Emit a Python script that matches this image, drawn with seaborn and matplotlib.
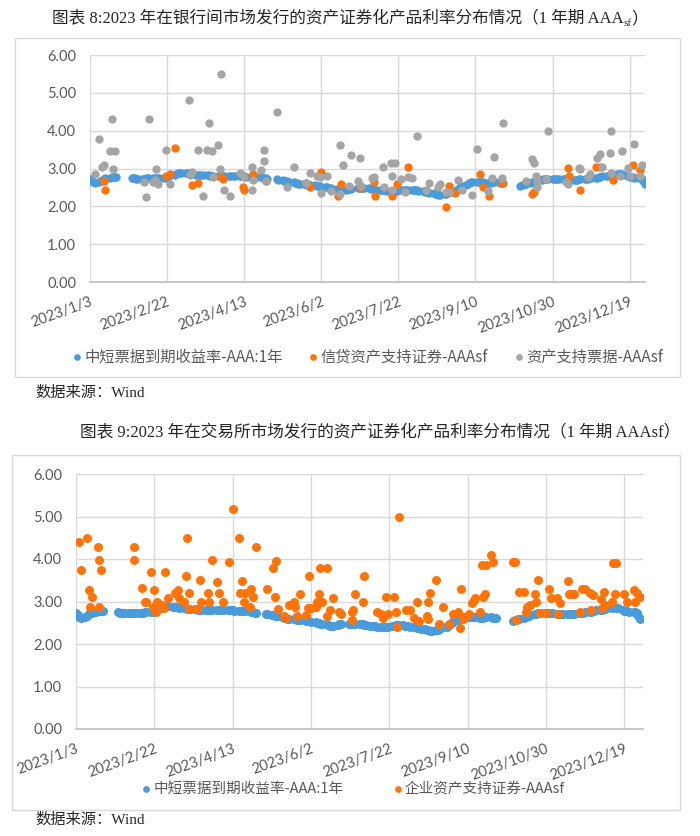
import pandas as pd
import seaborn as sns
import matplotlib.pyplot as plt
from matplotlib.patches import Rectangle
from matplotlib.ticker import FormatStrFormatter

# 中短票据到期收益率-AAA:1年, one value per trading day, month by month
mtn_jan = [2.72, 2.68, 2.63, 2.61, 2.64, 2.67, 2.70, 2.72, 2.74, 2.76, 2.77, 2.78, 2.78, 2.78, 2.75, 2.74]
mtn_feb = [2.74, 2.73, 2.73, 2.73, 2.73, 2.74, 2.74, 2.74, 2.74, 2.74, 2.74, 2.75, 2.75, 2.75, 2.76, 2.78,
           2.80, 2.82, 2.84, 2.86]
mtn_mar = [2.88, 2.89, 2.89, 2.88, 2.88, 2.87, 2.86, 2.85, 2.84, 2.84, 2.83, 2.83, 2.82, 2.82, 2.82, 2.81,
           2.81, 2.81, 2.80, 2.80, 2.80, 2.80, 2.80]
mtn_apr = [2.80, 2.80, 2.79, 2.79, 2.79, 2.79, 2.79, 2.79, 2.78, 2.78, 2.78, 2.78, 2.78, 2.77, 2.77, 2.76,
           2.75, 2.74, 2.73]
mtn_may = [2.71, 2.70, 2.69, 2.68, 2.67, 2.66, 2.65, 2.63, 2.62, 2.61, 2.60, 2.60, 2.59, 2.58, 2.57, 2.57,
           2.56, 2.56, 2.55, 2.54]
mtn_jun = [2.53, 2.52, 2.51, 2.50, 2.49, 2.48, 2.47, 2.46, 2.44, 2.43, 2.42, 2.42, 2.44, 2.46, 2.47, 2.48,
           2.48, 2.48, 2.48, 2.48]
mtn_jul = [2.48, 2.47, 2.46, 2.45, 2.44, 2.43, 2.43, 2.42, 2.42, 2.41, 2.41, 2.40, 2.40, 2.40, 2.41, 2.42,
           2.43, 2.44, 2.44, 2.44, 2.44]
mtn_aug = [2.43, 2.42, 2.42, 2.41, 2.40, 2.39, 2.38, 2.37, 2.36, 2.35, 2.33, 2.32, 2.31, 2.31, 2.32, 2.33,
           2.35, 2.37, 2.39, 2.41, 2.44, 2.47, 2.50]
mtn_sep = [2.53, 2.56, 2.59, 2.61, 2.63, 2.64, 2.64, 2.64, 2.63, 2.63, 2.63, 2.62, 2.62, 2.62, 2.63, 2.63,
           2.63, 2.62, 2.62, 2.62]
mtn_oct = [2.55, 2.56, 2.57, 2.58, 2.60, 2.62, 2.64, 2.65, 2.67, 2.68, 2.70, 2.71, 2.72, 2.72, 2.72, 2.72, 2.72]
mtn_nov = [2.72, 2.72, 2.72, 2.71, 2.71, 2.71, 2.70, 2.70, 2.70, 2.70, 2.70, 2.71, 2.71, 2.72, 2.72, 2.73,
           2.74, 2.75, 2.76, 2.76, 2.77, 2.78]
mtn_dec = [2.79, 2.80, 2.81, 2.82, 2.83, 2.84, 2.85, 2.86, 2.86, 2.85, 2.84, 2.80, 2.78, 2.77, 2.77, 2.76,
           2.76, 2.75, 2.72, 2.66, 2.60]

holidays = ["2023-01-23", "2023-01-24", "2023-01-25", "2023-01-26", "2023-01-27", "2023-04-05",
            "2023-05-01", "2023-05-02", "2023-05-03", "2023-06-22", "2023-06-23", "2023-09-29",
            "2023-10-02", "2023-10-03", "2023-10-04", "2023-10-05", "2023-10-06"]

# chart 8: interbank issues
credit_dates = ["01-12", "01-13", "02-21", "02-24", "02-27", "03-10", "03-14", "03-29", "03-30", "04-12",
                "04-13", "04-19", "04-27", "05-23", "05-26", "06-02", "06-13", "06-15", "06-27", "07-06",
                "07-07", "07-18", "07-21", "07-28", "08-22", "08-24", "08-28", "09-13", "09-15", "09-19",
                "09-27", "10-17", "10-18", "11-09", "11-10", "11-17", "11-27", "11-30", "12-08", "12-21",
                "12-26"]
credit_rates = [2.68, 2.44, 2.79, 2.86, 3.55, 2.57, 2.61, 2.77, 2.73, 2.50,
                2.42, 2.86, 2.68, 2.61, 2.50, 2.90, 2.26, 2.58, 2.48, 2.64,
                2.26, 2.26, 2.59, 3.05, 1.97, 2.55, 2.36, 2.86, 2.50, 2.26,
                2.61, 2.33, 2.37, 3.01, 2.79, 2.44, 3.05, 3.03, 2.70, 3.10,
                2.95]

abn_dates = ["01-06", "01-09", "01-11", "01-12", "01-16", "01-17", "01-18", "01-19",
             "02-07", "02-08", "02-10", "02-13", "02-14", "02-15", "02-16", "02-21", "02-24",
             "03-08", "03-09", "03-10", "03-14", "03-17", "03-20", "03-21", "03-23", "03-24", "03-27",
             "03-28", "03-29", "03-31",
             "04-04", "04-10", "04-13", "04-18", "04-18", "04-19", "04-24", "04-26", "04-26", "04-27",
             "05-04", "05-11", "05-15", "05-23", "05-26", "05-30",
             "06-01", "06-02", "06-06", "06-08", "06-14", "06-14", "06-16", "06-20", "06-21", "06-26",
             "06-27", "06-28",
             "07-05", "07-06", "07-12", "07-13", "07-17", "07-18", "07-18", "07-20", "07-24", "07-26",
             "07-28", "07-31",
             "08-03", "08-09", "08-11", "08-17", "08-18", "08-22", "08-24", "08-30",
             "09-01", "09-08", "09-11", "09-18", "09-21", "09-22", "09-27", "09-28",
             "10-13", "10-17", "10-18", "10-19", "10-20", "10-20", "10-26", "10-27",
             "11-08", "11-09", "11-16", "11-17", "11-22", "11-23", "11-28", "11-30",
             "12-01", "12-06", "12-07", "12-07", "12-13", "12-14", "12-18", "12-19", "12-22", "12-26",
             "12-27"]
abn_rates = [2.86, 3.77, 3.05, 3.10, 3.45, 4.30, 2.99, 3.45,
             2.64, 2.24, 4.30, 2.64, 2.70, 3.00, 2.59, 3.48, 2.59,
             4.80, 2.82, 2.90, 3.48, 2.28, 3.48, 4.21, 3.45, 2.77, 3.61,
             2.99, 5.50, 2.44,
             2.27, 2.88, 2.77, 3.03, 2.42, 2.70, 2.97, 3.21, 3.48, 2.68,
             4.50, 2.50, 3.05, 2.61, 2.88, 2.79,
             2.77, 2.35, 2.79, 2.40, 3.61, 2.33, 3.08, 2.55, 3.36, 2.68,
             3.27, 2.55,
             2.75, 2.77, 3.04, 2.50, 3.14, 2.79, 2.42, 3.14, 2.73, 2.37,
             2.77, 2.74,
             3.86, 2.42, 2.61, 2.50, 2.59, 2.37, 2.37, 2.70,
             2.44, 2.30, 3.52, 2.40, 2.75, 3.30, 2.75, 4.21,
             2.68, 3.25, 3.14, 2.79, 2.50, 2.68, 2.73, 3.98,
             2.64, 2.58, 3.01, 2.98, 2.77, 2.86, 3.29, 3.39,
             3.05, 3.41, 3.98, 2.88, 2.79, 3.45, 3.01, 2.79, 3.64, 2.79,
             3.10]

# chart 9: exchange issues
corp_dates = ["01-05", "01-06", "01-10", "01-11", "01-12", "01-13", "01-17", "01-18", "01-18", "01-19",
              "02-09", "02-09", "02-14", "02-16", "02-17", "02-20", "02-21", "02-22", "02-23", "02-24",
              "02-27", "02-28",
              "03-01", "03-03", "03-07", "03-09", "03-10", "03-13", "03-14", "03-15", "03-16", "03-16",
              "03-21", "03-23", "03-24", "03-28", "03-29", "03-31",
              "04-03", "04-04", "04-07", "04-11", "04-13", "04-17", "04-18", "04-19", "04-20", "04-21",
              "04-24", "04-25", "04-26", "04-28",
              "05-05", "05-09", "05-10", "05-11", "05-12", "05-16", "05-17", "05-19", "05-22", "05-23",
              "05-24", "05-26", "05-30", "05-31",
              "06-01", "06-02", "06-05", "06-06", "06-07", "06-08", "06-09", "06-12", "06-12", "06-14",
              "06-16", "06-20", "06-21", "06-28", "06-28", "06-29", "06-30",
              "07-05", "07-06", "07-14", "07-17", "07-18", "07-20", "07-21", "07-25", "07-26", "07-27",
              "07-28",
              "08-02", "08-04", "08-07", "08-09", "08-10", "08-15", "08-16", "08-16", "08-17", "08-21",
              "08-23", "08-25", "08-29",
              "09-01", "09-04", "09-05", "09-06", "09-07", "09-08", "09-11", "09-13", "09-14", "09-15",
              "09-18", "09-19", "09-20", "09-21", "09-22", "09-25", "09-26",
              "10-09", "10-10", "10-11", "10-13", "10-16", "10-17", "10-18", "10-20", "10-23", "10-24",
              "10-25", "10-26", "10-30",
              "11-01", "11-02", "11-06", "11-07", "11-08", "11-13", "11-14", "11-15", "11-17", "11-21",
              "11-22", "11-24", "11-27", "11-28", "11-29",
              "12-04", "12-05", "12-06", "12-07", "12-11", "12-12", "12-13", "12-14", "12-19", "12-21",
              "12-25", "12-26", "12-27", "12-29"]
corp_rates = [4.39, 3.75, 4.49, 3.27, 2.86, 3.10, 4.28, 3.98, 2.86, 3.75,
              4.28, 3.98, 3.31, 3.00, 3.00, 3.69, 2.88, 3.26, 2.75, 3.00,
              2.92, 2.84,
              3.69, 3.09, 3.20, 3.27, 3.09, 3.00, 3.59, 4.49, 3.20, 2.83,
              2.83, 3.51, 3.00, 3.20, 3.00, 3.98,
              3.45, 3.20, 2.98, 3.93, 5.18, 4.49, 3.20, 3.49, 3.00, 3.20,
              2.86, 3.29, 3.10, 4.28,
              3.29, 3.80, 3.10, 3.96, 2.83, 2.66, 2.61, 2.92, 3.00, 2.88,
              2.66, 3.18, 2.68, 2.84,
              3.59, 2.84, 2.86, 3.00, 3.18, 3.80, 3.00, 3.80, 2.66, 2.79,
              3.08, 2.76, 2.70, 2.76, 2.56, 2.80, 3.18,
              3.00, 3.59, 2.76, 2.70, 2.61, 3.10, 2.70, 3.10, 2.76, 2.41,
              5.00,
              2.79, 2.79, 2.61, 3.00, 2.55, 2.66, 3.00, 2.59, 3.20, 3.51,
              2.48, 2.88, 2.48,
              2.70, 2.76, 2.38, 3.29, 2.59, 2.61, 2.70, 2.96, 3.04, 3.08,
              2.76, 3.86, 3.10, 3.18, 3.86, 4.09, 3.92,
              3.94, 3.94, 2.56, 3.23, 3.23, 2.76, 2.87, 2.91, 3.18, 2.98,
              3.51, 2.73, 2.73,
              3.29, 3.08, 3.08, 2.70, 2.96, 3.49, 3.18, 3.18, 3.18, 2.76,
              3.29, 3.29, 3.20, 2.80, 3.15,
              3.05, 2.84, 3.23, 2.92, 3.00, 3.90, 3.18, 3.90, 3.18, 3.00,
              3.27, 3.00, 3.20, 3.10]

tick_labels = ["2023/1/3", "2023/2/22", "2023/4/13", "2023/6/2", "2023/7/22", "2023/9/10",
               "2023/10/30", "2023/12/19"]
y_ticks = [0, 1, 2, 3, 4, 5, 6]

BLUE = "#4A9BDB"
ORANGE = "#FF7308"
GRAY = "#A5A5A5"

sns.set_style("white")
plt.rcParams["font.family"] = ["Lato", "Noto Sans CJK SC"]
SERIF = ["Liberation Serif", "Noto Sans CJK SC"]
CJK = ["Noto Sans CJK SC", "DejaVu Sans"]

days = pd.bdate_range("2023-01-03", "2023-12-29")
days = days[~days.isin(pd.to_datetime(holidays))]
mtn = pd.DataFrame({"date": days,
                    "rate": mtn_jan + mtn_feb + mtn_mar + mtn_apr + mtn_may + mtn_jun + mtn_jul
                    + mtn_aug + mtn_sep + mtn_oct + mtn_nov + mtn_dec})


def to_df(dates, rates):
    return pd.DataFrame({"date": pd.to_datetime(["2023-" + d for d in dates]), "rate": rates})


credit = to_df(credit_dates, credit_rates)
abn = to_df(abn_dates, abn_rates)
corp = to_df(corp_dates, corp_rates)
tick_dates = pd.to_datetime(tick_labels, format="%Y/%m/%d")

W, H = 700, 836
fig = plt.figure(figsize=(W / 100, H / 100), dpi=100)


def fx(px):
    return px / W


def fy(py):
    return 1 - py / H


def style_axes(ax, end):
    ax.set_xlim(pd.Timestamp("2023-01-03"), pd.Timestamp(end))
    ax.set_ylim(0, 6)
    ax.set_yticks(y_ticks)
    ax.yaxis.set_major_formatter(FormatStrFormatter("%.2f"))
    ax.set_xticks(tick_dates)
    ax.set_xticklabels(tick_labels, rotation=20, ha="right", rotation_mode="anchor")
    ax.grid(True, color="#D9D9D9", lw=1)
    ax.set_axisbelow(True)
    for s in ["top", "right", "left"]:
        ax.spines[s].set_visible(False)
    ax.spines["bottom"].set_color("#BFBFBF")
    ax.spines["bottom"].set_linewidth(1.2)
    ax.tick_params(length=0, labelsize=10.5, labelcolor="#595959")
    ax.tick_params(axis="y", pad=10)
    ax.tick_params(axis="x", pad=9)
    ax.set_xlabel("")
    ax.set_ylabel("")
    if ax.get_legend() is not None:
        ax.get_legend().remove()


def title_sub(y_px, cx_px, main, sub, tail):
    r = fig.canvas.get_renderer()
    kw = dict(fontsize=12, family=SERIF, va="baseline", ha="left")
    ta = fig.text(0, fy(y_px), main, **kw)
    tb = fig.text(0, fy(y_px + 3), sub, **{**kw, "fontsize": 8})
    tc = fig.text(0, fy(y_px), tail, **kw)
    wa = ta.get_window_extent(r).width
    wb = tb.get_window_extent(r).width
    wc = tc.get_window_extent(r).width
    x0 = cx_px - (wa + wb + wc) / 2
    ta.set_x(fx(x0))
    tb.set_x(fx(x0 + wa))
    tc.set_x(fx(x0 + wa + wb))


# ---- chart 8 ----
fig.add_artist(Rectangle((fx(15), fy(377)), fx(665), 339 / H, transform=fig.transFigure,
                         fill=False, edgecolor="#D9D9D9", lw=1))
ax1 = fig.add_axes([fx(90), fy(282), fx(555), 227 / H])
sns.scatterplot(data=mtn, x="date", y="rate", ax=ax1, color=BLUE, s=36, linewidth=0,
                label="中短票据到期收益率-AAA:1年")
sns.scatterplot(data=credit, x="date", y="rate", ax=ax1, color=ORANGE, s=36, linewidth=0,
                label="信贷资产支持证券-AAAsf")
sns.scatterplot(data=abn, x="date", y="rate", ax=ax1, color=GRAY, s=36, linewidth=0,
                label="资产支持票据-AAAsf")
h1, l1 = ax1.get_legend_handles_labels()
style_axes(ax1, "2023-12-29")
fig.legend(h1, l1, loc="center", bbox_to_anchor=(fx(366), fy(357)), ncol=3, frameon=False,
           prop={"family": CJK, "size": 11}, labelcolor="#595959", markerscale=0.8,
           handletextpad=0.0, columnspacing=1.5, handlelength=1.0)

fig.text(fx(35), fy(393), "数据来源：Wind", family=SERIF, fontsize=11, va="center", ha="left")

# ---- chart 9 ----
fig.add_artist(Rectangle((fx(12), fy(810)), fx(668), 355 / H, transform=fig.transFigure,
                         fill=False, edgecolor="#D9D9D9", lw=1))
ax2 = fig.add_axes([fx(76), fy(729), fx(567), 255 / H])
sns.scatterplot(data=mtn, x="date", y="rate", ax=ax2, color=BLUE, s=42, linewidth=0,
                label="中短票据到期收益率-AAA:1年")
sns.scatterplot(data=corp, x="date", y="rate", ax=ax2, color=ORANGE, s=42, linewidth=0,
                label="企业资产支持证券-AAAsf")
h2, l2 = ax2.get_legend_handles_labels()
style_axes(ax2, "2023-12-31")
fig.legend(h2, l2, loc="center", bbox_to_anchor=(fx(352), fy(789)), ncol=2, frameon=False,
           prop={"family": CJK, "size": 10.5}, labelcolor="#595959", markerscale=0.75,
           handletextpad=0.0, columnspacing=3.2, handlelength=1.0)

fig.text(fx(35), fy(820), "数据来源：Wind", family=SERIF, fontsize=11, va="center", ha="left")

title_sub(23, 350, "图表 8:2023 年在银行间市场发行的资产证券化产品利率分布情况（1 年期 AAA", "sf", "）")
fig.text(fx(380), fy(437), "图表 9:2023 年在交易所市场发行的资产证券化产品利率分布情况（1 年期 AAAsf）",
         family=SERIF, fontsize=12, ha="center", va="baseline")

fig.savefig("out.png", dpi=100)
